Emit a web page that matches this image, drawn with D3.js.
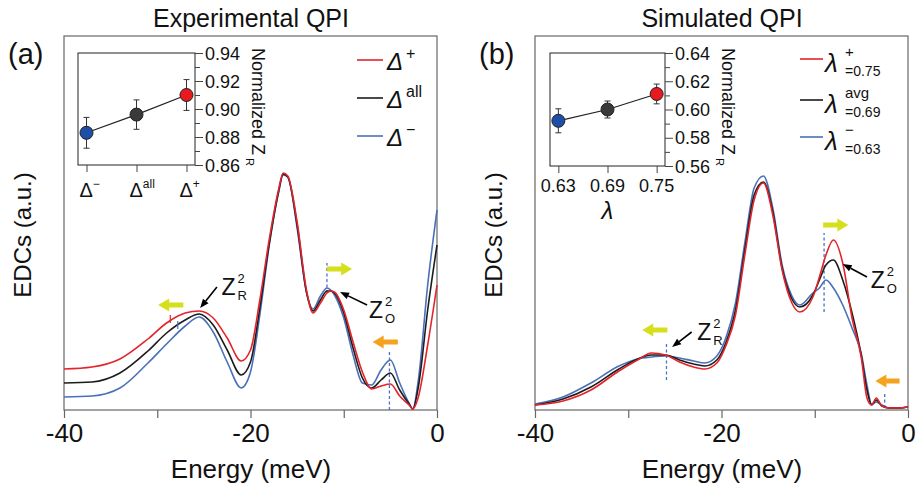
<!DOCTYPE html>
<html>
<head>
<meta charset="utf-8">
<script src="https://cdn.jsdelivr.net/npm/d3@7"></script>
<style>
  body { margin: 0; background: #fff; }
  text { font-family: "Liberation Sans", Arial, sans-serif; fill: #111; }
</style>
</head>
<body>
<script>
// ---- data (EDC values in a.u.) ----
var energyA = [-40, -37, -34, -31, -29, -27, -25.5, -24, -22.5, -21, -20, -19, -18, -17, -16.5, -16, -15, -14, -13.3,
               -12.5, -11.8, -11.4, -11, -10, -9, -8, -7, -6, -5, -4, -3, -2.6, -2, -1, 0];
var redA   = [41, 43, 51, 71, 87, 97, 99, 92, 72, 49, 60, 110, 170, 220, 237, 234, 188, 120, 97,
              107, 117, 119, 118, 100, 68, 38, 21, 24, 26, 14, 5, 1, 13, 65, 125];
var blackA = [27, 28, 37, 59, 77, 90, 96, 85, 60, 35, 48, 102, 166, 218, 236, 233, 185, 118, 99,
              110, 119, 119, 117, 97, 62, 32, 22, 30, 37, 20, 6, 1, 23, 100, 165];
var blueA  = [13, 14, 22, 47, 66, 84, 93, 78, 48, 22, 38, 95, 164, 217, 235, 233, 182, 118, 101,
              114, 122, 120, 115, 92, 55, 27, 25, 40, 50, 27, 7, 1, 30, 125, 200];

var energyB = [-40, -37, -34, -31, -29, -27.5, -26, -24.5, -23, -21.8, -20.5, -19.5, -18.5, -17.5, -16.5, -15.5, -14.5,
               -13.5, -12.5, -11.6, -10.2, -9.5, -8.8, -8, -7, -6, -5, -4.4, -3.9, -3.4, -2.8, -2, -1, 0];
var redB   = [5, 9, 20, 39, 50, 57, 55, 48, 43, 41, 47, 65, 95, 155, 210, 227, 195,
              140, 108, 98, 113, 133, 155, 170, 147, 92, 52, 12, 5, 12, 4, 2, 2, 3];
var blackB = [5, 11, 23, 41, 51, 55, 55, 50, 46, 44, 50, 68, 100, 160, 215, 228, 198,
              142, 112, 103, 115, 130, 145, 150, 130, 97, 54, 20, 5, 10, 4, 2, 2, 3];
var blueB  = [6, 13, 27, 44, 51, 53, 54, 52, 49, 47, 54, 73, 107, 167, 222, 234, 202,
              145, 115, 105, 117, 122, 130, 122, 105, 82, 56, 25, 6, 8, 5, 2, 2, 3];

var xTicks = [-40, -30, -20, -10, 0];
var xTickLabels = [-40, -20, 0];

// insets: normalized Z_R
var insetCatsA = ["\u0394\u207B", "\u0394all", "\u0394\u207A"];
var insetValsA = [0.883, 0.896, 0.910];
var insetErrA  = [0.011, 0.0105, 0.011];
var insetTicksA = [0.86, 0.88, 0.90, 0.92, 0.94];

var insetCatsB = ["0.63", "0.69", "0.75"];
var insetValsB = [0.592, 0.600, 0.611];
var insetErrB  = [0.0085, 0.006, 0.007];
var insetTicksB = [0.56, 0.58, 0.60, 0.62, 0.64];

var RED = "#e3242b", BLACK = "#1c1c1c", BLUE = "#4a70b8";
var YEL = "#d6df1c", ORA = "#f5a21e";

var svg = d3.select("body").append("svg").attr("width", 917).attr("height", 491);

function blockArrow(g, x1, x2, y, col) {
  var dir = x2 > x1 ? 1 : -1, hl = 11, sw = 2.5, hw = 6.5;
  var xb = x2 - dir * hl;
  var pts = [[x1, y - sw], [xb, y - sw], [xb, y - hw], [x2, y], [xb, y + hw], [xb, y + sw], [x1, y + sw]];
  g.append("path").attr("d", d3.line()(pts) + "Z").attr("fill", col);
}

function pointer(g, x1, y1, x2, y2) {
  var a = Math.atan2(y2 - y1, x2 - x1), L = 9, W = 3.5;
  var bx = x2 - L * Math.cos(a), by = y2 - L * Math.sin(a);
  g.append("line").attr("x1", x1).attr("y1", y1).attr("x2", bx).attr("y2", by)
    .attr("stroke", "#000").attr("stroke-width", 1.6);
  var pts = [[x2, y2], [bx + W * Math.sin(a), by - W * Math.cos(a)], [bx - W * Math.sin(a), by + W * Math.cos(a)]];
  g.append("path").attr("d", d3.line()(pts) + "Z").attr("fill", "#000");
}

function zLabel(g, x, y, sub) {
  g.append("text").attr("x", x).attr("y", y).attr("font-size", 23).text("Z");
  g.append("text").attr("x", x + 16).attr("y", y - 12).attr("font-size", 13).text("2");
  g.append("text").attr("x", x + 16).attr("y", y + 5).attr("font-size", 13).text(sub);
}

function panel(p) {
  var x = d3.scaleLinear().domain([-40, 0]).range([p.x0, p.x0 + 373]);
  var y = d3.scaleLinear().domain([0, 374]).range([410, 36]);
  var g = svg.append("g");

  g.append("text").attr("x", p.x0 + 187).attr("y", 27).attr("text-anchor", "middle")
    .attr("font-size", 25).text(p.title);
  g.append("text").attr("x", p.x0 - 56).attr("y", 64).attr("font-size", 29).text(p.tag);
  g.append("text").attr("transform", "translate(" + (p.x0 - 33) + ",235) rotate(-90)")
    .attr("text-anchor", "middle").attr("font-size", 24).text("EDCs (a.u.)");

  g.append("rect").attr("x", p.x0).attr("y", 36).attr("width", 373).attr("height", 374)
    .attr("fill", "none").attr("stroke", "#666").attr("stroke-width", 1.2);

  var ax = g.append("g").attr("transform", "translate(0,410)")
    .call(d3.axisBottom(x).tickValues(xTicks).tickSize(8).tickPadding(6)
      .tickFormat(function(d) { return xTickLabels.indexOf(d) >= 0 ? String(d) : ""; }));
  ax.select(".domain").remove();
  ax.selectAll("line").attr("stroke", "#666").attr("stroke-width", 1.2);
  ax.selectAll("text").attr("font-size", 26).attr("font-family", "Liberation Sans, Arial, sans-serif").attr("fill", "#111");
  g.append("text").attr("x", p.x0 + 187).attr("y", 478).attr("text-anchor", "middle")
    .attr("font-size", 26).text("Energy (meV)");

  // dashed markers
  p.dashes.forEach(function(d) {
    g.append("line").attr("x1", x(d[0])).attr("x2", x(d[0])).attr("y1", y(d[1])).attr("y2", y(d[2]))
      .attr("stroke", "#4a70c8").attr("stroke-width", 1.3).attr("stroke-dasharray", "3,2.5");
  });

  var line = d3.line().x(function(d) { return x(d[0]); }).y(function(d) { return y(d[1]); })
    .curve(d3.curveMonotoneX);
  [[p.blue, BLUE], [p.black, BLACK], [p.red, RED]].forEach(function(s) {
    g.append("path").attr("d", line(p.energy.map(function(e, i) { return [e, s[0][i]]; })))
      .attr("fill", "none").attr("stroke", s[1]).attr("stroke-width", 1.6);
  });

  (p.marks || []).forEach(function(d) {
    g.append("line").attr("x1", x(d[0])).attr("x2", x(d[0])).attr("y1", y(d[1])).attr("y2", y(d[2]))
      .attr("stroke", d[3]).attr("stroke-width", 1.2);
  });

  p.arrows.forEach(function(d) { blockArrow(g, x(d[0]), x(d[1]), y(d[2]), d[3]); });
  p.pointers.forEach(function(d) { pointer(g, x(d[0]), y(d[1]), x(d[2]), y(d[3])); });
  p.zlabels.forEach(function(d) { zLabel(g, x(d[0]), y(d[1]), d[2]); });

  // inset
  var ib = p.inset;
  var ix = d3.scalePoint().domain(ib.cats).range([ib.l, ib.r]).padding(0.17);
  var iy = d3.scaleLinear().domain([ib.ticks[0], ib.ticks[ib.ticks.length - 1]]).range([ib.b, ib.t]);
  var ig = g.append("g");
  ig.append("rect").attr("x", ib.l).attr("y", ib.t).attr("width", ib.r - ib.l).attr("height", ib.b - ib.t)
    .attr("fill", "none").attr("stroke", "#222").attr("stroke-width", 1);
  var yax = ig.append("g").attr("transform", "translate(" + ib.r + ",0)")
    .call(d3.axisRight(iy).tickValues(d3.range(ib.ticks[0], ib.ticks[4] + 0.001, 0.01)).tickSize(5)
      .tickFormat(function(d) { return ""; }));
  yax.select(".domain").remove();
  yax.selectAll("line").attr("stroke", "#444");
  yax.selectAll(".tick").filter(function(d, i) { return i % 2 == 0; }).select("line").attr("x2", 8);
  ib.ticks.forEach(function(t) {
    ig.append("text").attr("x", ib.r + 10).attr("y", iy(t) + 6.5).attr("font-size", 18).text(t.toFixed(2));
  });
  ig.append("text").attr("transform", "translate(" + (ib.r + 57) + "," + (ib.t - 5) + ") rotate(90)")
    .attr("font-size", 18).text("Normalized Z");
  ig.append("text").attr("transform", "translate(" + (ib.r + 51) + "," + (ib.t + 105) + ") rotate(90)")
    .attr("font-size", 11).text("R");
  var xax = ig.append("g").attr("transform", "translate(0," + ib.b + ")")
    .call(d3.axisBottom(ix).tickSize(7).tickFormat(""));
  xax.select(".domain").remove();
  xax.selectAll("line").attr("stroke", "#444");
  ib.drawLabels(ig, ix, ib.b);

  var pts = ib.cats.map(function(c, i) { return [ix(c), iy(ib.vals[i])]; });
  ig.append("path").attr("d", d3.line()(pts)).attr("stroke", "#222").attr("stroke-width", 1.2).attr("fill", "none");
  ib.cats.forEach(function(c, i) {
    var cx = ix(c), lo = iy(ib.vals[i] - ib.err[i]), hi = iy(ib.vals[i] + ib.err[i]);
    ig.append("line").attr("x1", cx).attr("x2", cx).attr("y1", lo).attr("y2", hi).attr("stroke", "#333");
    ig.append("line").attr("x1", cx - 3).attr("x2", cx + 3).attr("y1", lo).attr("y2", lo).attr("stroke", "#333");
    ig.append("line").attr("x1", cx - 3).attr("x2", cx + 3).attr("y1", hi).attr("y2", hi).attr("stroke", "#333");
  });
  var pcol = ["#1d4fa8", "#3a3a3a", "#e8191f"];
  ib.cats.forEach(function(c, i) {
    ig.append("circle").attr("cx", ix(c)).attr("cy", iy(ib.vals[i])).attr("r", 6.5)
      .attr("fill", pcol[i]).attr("stroke", "#222").attr("stroke-width", 1);
  });

  p.legend(g);
}

panel({
  x0: 64, title: "Experimental QPI", tag: "(a)",
  energy: energyA, red: redA, black: blackA, blue: blueA,
  dashes: [[-11.8, 117, 147], [-5.1, 0, 60]],
  marks: [[-28.6, 87, 95, RED], [-27.8, 81, 89, BLUE]],
  arrows: [[-27.2, -29.9, 105, YEL], [-11.8, -9.1, 141, YEL], [-4.2, -6.9, 68, ORA]],
  pointers: [[-23.6, 123, -25.4, 102], [-7.5, 105, -10.4, 118]],
  zlabels: [[-23.1, 115, "R"], [-7.3, 92, "O"]],
  inset: {
    l: 78, r: 195, t: 53, b: 165, cats: insetCatsA, vals: insetValsA, err: insetErrA, ticks: insetTicksA,
    drawLabels: function(ig, ix, b) {
      var sup = ["\u2212", "all", "+"];
      insetCatsA.forEach(function(c, i) {
        var t = ig.append("text").attr("x", ix(c) - 7).attr("y", b + 32).attr("font-size", 20);
        t.append("tspan").text("\u0394");
        t.append("tspan").attr("font-size", 12).attr("dy", -9).text(sup[i]);
      });
    }
  },
  legend: function(g) {
    var items = [[RED, "+", 60], [BLACK, "all", 98], [BLUE, "\u2212", 136]];
    items.forEach(function(it) {
      g.append("line").attr("x1", 357).attr("x2", 383).attr("y1", it[2]).attr("y2", it[2])
        .attr("stroke", it[0]).attr("stroke-width", 1.6);
      g.append("text").attr("x", 387).attr("y", it[2] + 10).attr("font-size", 24)
        .attr("font-style", "italic").text("\u0394");
      g.append("text").attr("x", 406).attr("y", it[2] - 1).attr("font-size", 16).text(it[1]);
    });
  }
});

panel({
  x0: 535, title: "Simulated QPI", tag: "(b)",
  energy: energyB, red: redB, black: blackB, blue: blueB,
  dashes: [[-25.9, 30, 67], [-9.0, 98, 177], [-2.5, 2, 18]],
  marks: [],
  arrows: [[-25.8, -28.5, 80, YEL], [-9.1, -6.4, 185, YEL], [-0.9, -3.5, 29, ORA]],
  pointers: [[-4.4, 133, -7.0, 146], [-23.2, 78, -25.3, 63]],
  zlabels: [[-4.0, 122, "O"], [-22.6, 70, "R"]],
  inset: {
    l: 550, r: 665, t: 53, b: 166, cats: insetCatsB, vals: insetValsB, err: insetErrB, ticks: insetTicksB,
    drawLabels: function(ig, ix, b) {
      insetCatsB.forEach(function(c) {
        ig.append("text").attr("x", ix(c)).attr("y", b + 26).attr("text-anchor", "middle")
          .attr("font-size", 18).text(c);
      });
      ig.append("text").attr("x", ix("0.69")).attr("y", b + 53).attr("text-anchor", "middle")
        .attr("font-size", 24).attr("font-style", "italic").text("\u03BB");
    }
  },
  legend: function(g) {
    var items = [[RED, "+", "=0.75", 59], [BLACK, "avg", "=0.69", 100], [BLUE, "\u2212", "=0.63", 137]];
    items.forEach(function(it) {
      g.append("line").attr("x1", 800).attr("x2", 823).attr("y1", it[3]).attr("y2", it[3])
        .attr("stroke", it[0]).attr("stroke-width", 1.6);
      g.append("text").attr("x", 825).attr("y", it[3] + 13).attr("font-size", 26)
        .attr("font-style", "italic").text("\u03BB");
      g.append("text").attr("x", 845).attr("y", it[3] - 2).attr("font-size", 15).text(it[1]);
      g.append("text").attr("x", 845).attr("y", it[3] + 17).attr("font-size", 14).text(it[2]);
    });
  }
});
</script>
</body>
</html>
